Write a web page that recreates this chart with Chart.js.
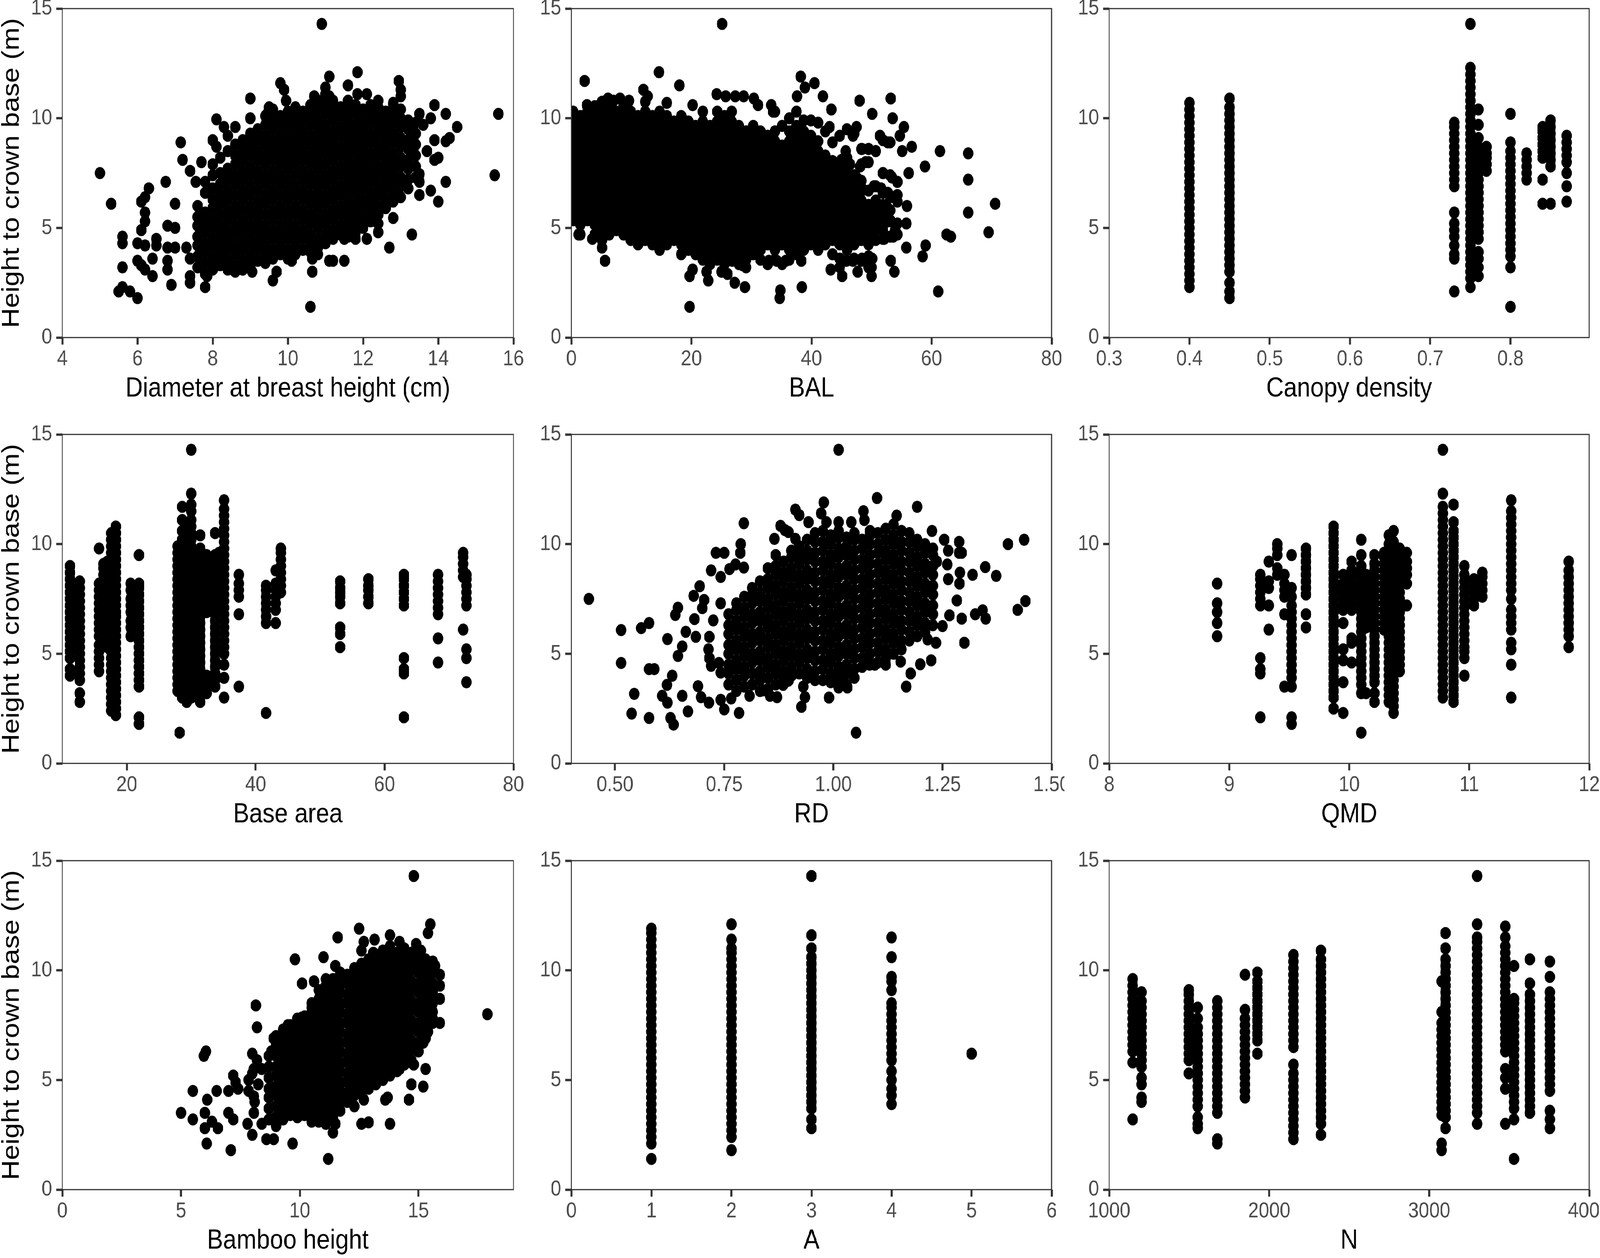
<!DOCTYPE html>
<html>
<head>
<meta charset="utf-8">
<script src="https://cdn.jsdelivr.net/npm/chart.js@4.4.1/dist/chart.umd.min.js"></script>
<style>
html, body { margin: 0; padding: 0; background: #fff; overflow: hidden; }
#page { position: absolute; left: 0; top: 0; width: 4724px; height: 3220px; overflow: hidden; background: #fff; transform-origin: 0 0; }
#page canvas { position: absolute; }
</style>
</head>
<body>
<div id="page"></div>
<script>
// each entry is [x, y1, y2, ...] : points sharing one x value
const dbhCols = [
  [7.6, 3.2,3.7,4.2,4.6,5.1,5.5,6.0],
  [7.8, 2.9,3.4,3.9,4.3,4.8,5.3,5.7,6.6,7.1],
  [8.0, 3.1,3.6,4.1,4.5,5.0,5.4,5.9,6.3,6.8,7.4,7.9],
  [8.2, 3.3,3.8,4.2,4.7,5.1,5.6,6.1,6.5,7.0,7.5,8.2],
  [8.4, 3.1,3.5,4.0,4.4,4.9,5.4,5.8,6.3,6.7,7.2,7.7,8.5],
  [8.6, 3.3,3.8,4.2,4.7,5.1,5.6,6.0,6.5,7.0,7.4,7.9,8.3,8.8],
  [8.8, 3.1,3.5,4.0,4.4,4.9,5.3,5.8,6.3,6.7,7.2,7.6,8.1,8.6,9.0],
  [9.0, 3.3,3.8,4.2,4.7,5.1,5.6,6.0,6.5,6.9,7.4,7.8,8.3,8.8,9.3],
  [9.2, 3.5,4.0,4.4,4.9,5.3,5.8,6.2,6.7,7.2,7.6,8.1,8.5,9.0,9.5],
  [9.4, 3.4,3.8,4.2,4.7,5.1,5.6,6.1,6.5,7.0,7.4,7.9,8.3,8.8,9.2,9.7,10.1],
  [9.6, 3.6,4.0,4.5,4.9,5.4,5.8,6.3,6.7,7.2,7.6,8.1,8.6,9.0,9.5,9.9,10.4],
  [9.8, 3.8,4.2,4.7,5.1,5.6,6.0,6.5,7.0,7.4,7.9,8.3,8.8,9.2,9.7,10.1],
  [10.0, 3.6,4.0,4.5,4.9,5.4,5.8,6.3,6.7,7.2,7.7,8.1,8.6,9.0,9.5,9.9,10.3],
  [10.2, 3.8,4.2,4.7,5.1,5.6,6.0,6.5,6.9,7.4,7.9,8.3,8.8,9.2,9.7,10.1,10.5],
  [10.4, 4.0,4.5,4.9,5.4,5.8,6.3,6.7,7.2,7.6,8.1,8.5,9.0,9.4,9.9,10.3],
  [10.6, 3.9,4.3,4.7,5.2,5.6,6.1,6.5,7.0,7.4,7.9,8.3,8.8,9.2,9.7,10.1,10.6],
  [10.8, 4.1,4.5,5.0,5.4,5.9,6.3,6.8,7.2,7.7,8.1,8.6,9.0,9.5,9.9,10.4,10.8],
  [11.0, 4.3,4.7,5.2,5.6,6.1,6.5,7.0,7.4,7.9,8.4,8.8,9.3,9.7,10.2,10.6],
  [11.2, 4.5,4.9,5.4,5.8,6.3,6.7,7.2,7.6,8.1,8.5,9.0,9.4,9.9,10.3,10.8],
  [11.4, 4.7,5.1,5.6,6.0,6.5,6.9,7.4,7.8,8.3,8.7,9.2,9.6,10.1,10.5],
  [11.6, 4.6,5.0,5.4,5.9,6.3,6.8,7.2,7.7,8.1,8.6,9.0,9.5,9.9,10.4,10.8],
  [11.8, 4.8,5.2,5.7,6.1,6.6,7.0,7.5,7.9,8.4,8.8,9.3,9.7,10.2,10.6],
  [12.0, 5.0,5.4,5.9,6.3,6.8,7.2,7.7,8.1,8.6,9.0,9.5,9.9,10.4],
  [12.2, 5.3,5.7,6.2,6.6,7.1,7.5,8.0,8.4,8.9,9.3,9.8,10.2,10.6],
  [12.4, 5.6,6.0,6.5,6.9,7.4,7.8,8.3,8.7,9.2,9.6,10.1,10.5],
  [12.6, 5.9,6.3,6.8,7.2,7.7,8.1,8.6,9.0,9.5,9.9,10.3],
  [12.8, 6.2,6.6,7.1,7.5,8.0,8.4,8.9,9.3,9.8,10.2,10.6],
  [13.0, 6.4,6.9,7.3,7.8,8.2,8.7,9.1,9.6,10.0,10.4],
  [13.2, 6.8,7.2,7.7,8.1,8.6,9.0,9.5,9.9],
  [13.4, 7.3,7.8,8.3,8.8,9.3,9.8],
  [10.9, 14.3], [5.0, 7.5], [5.3, 6.1], [15.6, 10.2], [15.5, 7.4], [10.6, 1.4],
  [5.5, 2.1], [5.6, 2.3,3.2,4.3,4.6], [5.8, 2.1], [6.0, 1.8,3.5,4.3], [6.1, 3.3,4.9,6.2],
  [6.2, 3.1,4.2,5.3,5.7,6.4], [6.3, 6.8], [6.4, 2.8,3.6], [6.5, 4.2,4.5], [6.75, 7.1],
  [6.8, 3.1,3.5,4.1,5.1], [6.9, 2.4], [7.0, 4.1,5.0,6.1], [7.15, 8.9], [7.2, 8.1], [7.3, 4.1],
  [7.4, 2.5,2.8,3.6,7.6], [7.55, 7.1], [7.7, 8.0], [7.8, 2.3], [7.85, 2.8], [8.1, 8.7,9.95],
  [8.0, 9.0], [8.3, 9.6], [8.4, 9.2], [8.6, 3.0,9.6], [8.8, 3.1], [9.0, 10.0,10.9],
  [9.05, 3.0,9.1], [9.45, 10.2], [9.5, 10.5], [9.6, 2.6], [9.7, 3.0], [9.8, 11.6], [9.9, 11.3],
  [9.95, 10.8], [10.1, 3.5], [10.65, 3.0,3.6], [10.7, 11.0], [10.8, 3.8], [11.0, 11.1,11.4],
  [11.1, 3.5,11.0,11.9], [11.2, 3.5], [11.5, 3.5,4.5], [11.6, 11.5], [11.8, 4.5],
  [11.85, 11.1,12.1], [12.1, 4.5,11.1], [12.2, 5.95], [12.3, 5.5], [12.4, 4.8,5.2,10.8],
  [12.7, 4.1,6.25], [12.8, 5.45,10.7], [12.95, 11.7], [13.0, 11.0,11.3], [13.3, 4.7],
  [13.5, 6.5,7.1,7.45,10.2], [13.6, 9.7], [13.7, 8.5], [13.8, 6.7,10.0], [13.9, 8.1,9.0,10.6],
  [14.0, 6.2,8.2], [14.2, 7.1,8.95,10.2], [14.3, 9.1], [14.5, 9.6]
];

const balCols = [
  [0.3, 5.35,5.8,6.25,6.7,7.15,7.6,8.05,8.5,8.95,9.4,9.85,10.3],
  [1.5, 4.7,5.15,5.6,6.05,6.5,6.95,7.4,7.85,8.3,8.75,9.2,9.65,10.1],
  [2.7, 5.35,5.8,6.25,6.7,7.15,7.6,8.05,8.5,8.95,9.4,9.85,10.3],
  [3.9, 4.7,5.15,5.6,6.05,6.5,6.95,7.4,7.85,8.3,8.75,9.2,9.65,10.1,10.55],
  [5.1, 4.45,4.9,5.35,5.8,6.25,6.7,7.15,7.6,8.05,8.5,8.95,9.4,9.85,10.3,10.75],
  [6.3, 4.7,5.15,5.6,6.05,6.5,6.95,7.4,7.85,8.3,8.75,9.2,9.65,10.1,10.55],
  [7.5, 4.9,5.35,5.8,6.25,6.7,7.15,7.6,8.05,8.5,8.95,9.4,9.85,10.3],
  [8.7, 4.7,5.15,5.6,6.05,6.5,6.95,7.4,7.85,8.3,8.75,9.2,9.65,10.1,10.55],
  [9.9, 4.45,4.9,5.35,5.8,6.25,6.7,7.15,7.6,8.05,8.5,8.95,9.4,9.85,10.3],
  [11.1, 4.25,4.7,5.15,5.6,6.05,6.5,6.95,7.4,7.85,8.3,8.75,9.2,9.65,10.1],
  [12.3, 4.45,4.9,5.35,5.8,6.25,6.7,7.15,7.6,8.05,8.5,8.95,9.4,9.85,10.3,10.75],
  [13.5, 4.25,4.7,5.15,5.6,6.05,6.5,6.95,7.4,7.85,8.3,8.75,9.2,9.65,10.1],
  [14.7, 4.0,4.45,4.9,5.35,5.8,6.25,6.7,7.15,7.6,8.05,8.5,8.95,9.4,9.85,10.3],
  [15.9, 4.25,4.7,5.15,5.6,6.05,6.5,6.95,7.4,7.85,8.3,8.75,9.2,9.65,10.1],
  [17.1, 4.45,4.9,5.35,5.8,6.25,6.7,7.15,7.6,8.05,8.5,8.95,9.4,9.85],
  [18.3, 3.8,4.25,4.7,5.15,5.6,6.05,6.5,6.95,7.4,7.85,8.3,8.75,9.2,9.65,10.1],
  [19.5, 4.0,4.45,4.9,5.35,5.8,6.25,6.7,7.15,7.6,8.05,8.5,8.95,9.4,9.85],
  [20.7, 3.8,4.25,4.7,5.15,5.6,6.05,6.5,6.95,7.4,7.85,8.3,8.75,9.2,9.65],
  [21.9, 3.55,4.0,4.45,4.9,5.35,5.8,6.25,6.7,7.15,7.6,8.05,8.5,8.95,9.4,9.85,10.3],
  [23.1, 3.35,3.8,4.25,4.7,5.15,5.6,6.05,6.5,6.95,7.4,7.85,8.3,8.75,9.2,9.65],
  [24.3, 3.55,4.0,4.45,4.9,5.35,5.8,6.25,6.7,7.15,7.6,8.05,8.5,8.95,9.4,9.85,10.3],
  [25.5, 3.35,3.8,4.25,4.7,5.15,5.6,6.05,6.5,6.95,7.4,7.85,8.3,8.75,9.2,9.65,10.1],
  [26.7, 3.55,4.0,4.45,4.9,5.35,5.8,6.25,6.7,7.15,7.6,8.05,8.5,8.95,9.4,9.85,10.3],
  [27.9, 3.35,3.8,4.25,4.7,5.15,5.6,6.05,6.5,6.95,7.4,7.85,8.3,8.75,9.2,9.65],
  [29.1, 3.55,4.0,4.45,4.9,5.35,5.8,6.25,6.7,7.15,7.6,8.05,8.5,8.95,9.4],
  [30.3, 3.8,4.25,4.7,5.15,5.6,6.05,6.5,6.95,7.4,7.85,8.3,8.75,9.2,9.65],
  [31.5, 3.55,4.0,4.45,4.9,5.35,5.8,6.25,6.7,7.15,7.6,8.05,8.5,8.95,9.4],
  [32.7, 3.35,4.25,4.7,5.15,5.6,6.05,6.5,6.95,7.4,7.85,8.3,8.75,9.2],
  [33.9, 3.55,4.0,4.45,4.9,5.35,5.8,6.25,6.7,7.15,7.6,8.05,8.5,8.95,9.4,10.3],
  [35.1, 3.35,4.25,4.7,5.15,5.6,6.05,6.5,6.95,7.4,7.85,8.3,8.75,9.65],
  [36.3, 3.55,4.0,4.45,4.9,5.35,5.8,6.25,6.7,7.15,7.6,8.05,8.5,8.95,9.4,10.0],
  [37.5, 3.8,4.25,4.7,5.15,5.6,6.05,6.5,6.95,7.4,7.85,8.3,8.75,9.2,9.65,10.3],
  [38.7, 4.0,4.45,4.9,5.35,5.8,6.25,6.7,7.15,7.6,8.05,8.5,8.95,9.4,9.9],
  [39.9, 4.25,4.7,5.15,5.6,6.05,6.5,6.95,7.4,7.85,8.3,8.75,9.2,9.9],
  [41.1, 4.0,4.45,4.9,5.35,5.8,6.25,6.7,7.15,7.6,8.05,8.5,8.95,9.8],
  [42.3, 4.25,4.7,5.15,5.6,6.05,6.5,6.95,7.4,7.85,8.3,9.4],
  [43.5, 3.8,4.45,4.9,5.35,5.8,6.25,6.7,7.15,7.6,8.05,8.9],
  [44.7, 3.6,4.25,4.7,5.15,5.6,6.05,6.5,6.95,7.4,7.85,9.2],
  [45.9, 4.0,4.45,4.9,5.35,5.8,6.25,6.7,7.15,7.6,8.2,9.5],
  [47.1, 3.6,4.25,4.7,5.15,5.6,6.05,6.5,6.95,7.4,9.3],
  [48.3, 3.5,4.45,4.9,5.35,5.8,6.25,6.7,7.15,7.9,8.6],
  [49.5, 3.2,3.7,4.25,4.7,5.15,5.6,6.05,6.7,8.0,8.6],
  [50.7, 4.45,4.9,5.35,5.8,6.25,6.9,8.5],
  [51.9, 4.5,5.15,5.6,6.05,6.6,7.5,9.0],
  [53.1, 4.6,5.35,5.8,6.4,7.4,8.9],
  [54.3, 4.7,5.2,6.2,7.1],
  [25.1, 14.3], [2.2, 11.7], [14.6, 12.1], [18.0, 11.5], [12.0, 11.3], [12.7, 11.0],
  [38.2, 11.9], [40.5, 11.6], [38.9, 11.4], [37.6, 11.0], [41.9, 11.0], [48.0, 10.8],
  [53.2, 10.9], [50.1, 10.2], [53.5, 10.0], [55.4, 9.6], [54.7, 9.2], [51.4, 9.2],
  [56.7, 8.7], [55.1, 8.5], [61.4, 8.5], [66.1, 5.7,7.2,8.4], [58.9, 7.8], [56.2, 7.5],
  [51.9, 4.9,7.5], [53.4, 7.3], [54.3, 6.5,7.1], [55.9, 6.0], [70.6, 6.1], [55.8, 4.1,5.2],
  [69.5, 4.8], [62.5, 4.7], [63.2, 4.6], [59.0, 4.2], [58.5, 3.7], [53.2, 3.5], [53.8, 3.0],
  [61.1, 2.1], [50.0, 2.8,3.2], [47.7, 3.0], [45.1, 2.8], [43.2, 3.1], [38.4, 2.3], [38.3, 3.5],
  [34.8, 2.15], [34.7, 1.8], [28.9, 2.3], [27.2, 2.5], [19.7, 1.4,2.8], [20.2, 3.1,10.6],
  [22.8, 2.6], [22.5, 3.0], [25.0, 3.0], [26.0, 2.9], [5.6, 3.5], [5.1, 4.1], [3.5, 4.5],
  [1.2, 4.7], [0.9, 5.45], [0.6, 5.8], [24.2, 11.1], [25.7, 11.0], [27.3, 11.0], [28.7, 11.0],
  [30.4, 10.9], [31.1, 10.6], [33.3, 10.6], [33.6, 10.3], [8.1, 10.9], [9.6, 10.8], [6.1, 10.9],
  [7.0, 10.8], [2.6, 10.6], [4.7, 10.6], [15.9, 10.7], [43.3, 10.4], [43.0, 9.6], [47.5, 7.3,9.6],
  [46.9, 3.5,9.2], [52.7, 5.9,6.6,8.9], [48.4, 3.6,6.8,8.6], [49.5, 8.6], [50.7, 8.5], [45.7, 8.5],
  [45.0, 8.1], [46.4, 7.9], [48.1, 7.8], [49.0, 8.0], [48.0, 6.4], [50.4, 4.5,6.9], [51.6, 6.8],
  [51.5, 5.5], [52.8, 5.3], [53.9, 4.9], [52.1, 4.5], [53.6, 4.6], [50.1, 3.6], [44.7, 3.2],
  [45.8, 3.5], [32.9, 3.5], [34.2, 3.5], [35.7, 3.5], [26.8, 3.5], [28.5, 3.3], [29.1, 3.2]
];

const canopyCols = [
  [0.40, 2.3,2.6,2.9,3.2,3.5,3.8,4.1,4.4,4.7,5.0,5.3,5.6,5.9,6.2,6.5,6.8,7.1,7.4,7.7,8.0,8.3,8.6,8.9,9.2,9.5,9.8,10.1,10.4,10.7],
  [0.45, 1.8,2.1,2.5,3.0,3.3,3.6,3.9,4.2,4.5,4.8,5.1,5.4,5.7,6.0,6.3,6.6,6.9,7.2,7.5,7.8,8.1,8.4,8.7,9.0,9.3,9.6,9.9,10.2,10.5,10.9],
  [0.73, 2.1,3.6,3.8,4.2,4.6,4.9,5.2,5.7,6.9,7.2,7.5,7.8,8.1,8.4,8.7,9.0,9.3,9.6,9.8],
  [0.75, 2.3,2.7,3.0,3.3,3.6,3.9,4.2,4.5,4.8,5.1,5.4,5.7,6.0,6.3,6.6,6.9,7.2,7.5,7.8,8.1,8.4,8.7,9.0,9.3,9.6,9.9,10.2,10.5,10.8,11.1,11.4,11.7,12.0,12.3,14.3],
  [0.76, 2.8,3.2,3.6,3.9,4.5,4.8,5.1,5.4,5.7,6.0,6.3,6.6,6.9,7.2,7.5,7.8,8.1,8.4,8.7,9.1,9.7,10.4],
  [0.77, 7.6,7.9,8.2,8.4,8.7],
  [0.80, 1.4,3.2,3.7,4.0,4.3,4.6,4.9,5.2,5.5,5.8,6.1,6.4,6.7,7.0,7.3,7.6,7.9,8.2,8.5,8.9,10.2],
  [0.82, 7.2,7.5,7.8,8.1,8.4],
  [0.84, 6.1,7.2,8.2,8.5,8.8,9.1,9.4,9.6],
  [0.85, 6.1,7.8,8.1,8.4,8.7,9.0,9.3,9.6,9.9],
  [0.87, 6.2,6.9,7.5,8.0,8.3,8.6,8.9,9.2]
];

const baseAreaCols = [
  [11.2, 4.0,4.3,4.8,5.1,5.4,5.7,6.0,6.3,6.6,6.9,7.2,7.5,7.8,8.1,8.4,8.7,9.0],
  [11.8, 5.5,5.9,6.3,6.7,7.1,7.5,7.9],
  [12.7, 2.8,3.2,3.8,4.1,4.4,4.7,5.0,5.3,5.6,5.9,6.2,6.5,6.8,7.1,7.4,7.7,8.0,8.3],
  [15.7, 4.2,4.5,4.8,5.1,5.4,5.8,6.1,6.4,6.7,7.0,7.3,7.6,7.9,8.2,9.8],
  [16.4, 5.6,5.9,6.2,6.5,6.8,7.1,7.4,7.7,8.0,8.3,8.6,8.9,9.1],
  [17.0, 5.3,5.7,6.0,6.3,6.6,6.9,7.2,7.5,7.8,8.1,8.4,8.7,9.2],
  [17.6, 2.4,2.7,3.0,3.3,3.6,3.9,4.2,4.5,4.8,5.1,5.4,5.7,6.0,6.3,6.6,6.9,7.2,7.5,7.8,8.1,8.4,8.7,9.0,9.3,9.6,9.9,10.2,10.5],
  [18.3, 2.2,2.5,2.8,3.1,3.4,3.7,4.0,4.3,4.6,4.9,5.2,5.5,5.8,6.1,6.4,6.7,6.9,7.2,7.5,7.8,8.1,8.4,8.7,9.0,9.3,9.6,9.9,10.2,10.5,10.8],
  [20.6, 5.8,6.2,6.5,6.9,7.2,7.5,7.9,8.2],
  [21.9, 1.8,2.1,3.5,3.8,4.1,4.4,4.7,5.0,5.3,5.6,5.9,6.2,6.5,6.8,7.1,7.4,7.7,8.0,8.2,9.5],
  [27.9, 3.3,3.6,3.9,4.2,4.5,4.8,5.1,5.4,5.7,6.0,6.3,6.6,6.9,7.2,7.5,7.8,8.1,8.4,8.7,9.0,9.3,9.6,9.9],
  [28.2, 1.4],
  [28.6, 3.0,3.3,3.6,3.9,4.2,4.5,4.8,5.1,5.4,5.7,6.0,6.3,6.6,6.9,7.2,7.5,7.8,8.1,8.4,8.7,9.0,9.3,9.6,9.9,10.2,10.6,11.1,11.7],
  [29.3, 2.8,3.1,3.4,3.7,4.0,4.3,4.6,4.9,5.2,5.5,5.8,6.1,6.4,6.7,7.0,7.3,7.6,7.9,8.2,8.5,8.8,9.1,9.4,9.7,10.0,10.4,10.8],
  [30.0, 3.0,3.3,3.6,3.9,4.2,4.5,4.8,5.1,5.4,5.7,6.0,6.3,6.6,6.9,7.2,7.5,7.8,8.1,8.4,8.7,9.0,9.3,9.6,9.9,10.2,10.5,10.8,11.1,11.5,11.8,12.3,14.3],
  [30.7, 3.2,3.5,3.8,4.1,4.4,4.7,5.0,5.3,5.6,5.9,6.2,6.5,6.8,7.1,7.4,7.7,8.0,8.3,8.6,8.9,9.2,9.5],
  [31.4, 2.8,3.1,3.4,3.7,4.0,4.3,4.6,4.9,5.2,5.5,5.8,6.1,6.4,6.7,7.0,7.3,7.6,7.9,8.2,8.5,8.8,9.1,9.4,9.8,10.4],
  [32.4, 3.2,3.6,4.0,6.9,7.2,7.6,8.0,8.4,8.8,9.2,9.5],
  [33.0, 7.3,7.7,8.1,8.5,8.9,9.3],
  [33.7, 3.5,3.8,4.1,4.4,4.7,5.0,5.3,5.6,5.9,6.2,6.5,6.8,7.1,7.4,7.7,8.0,8.3,8.6,8.9,9.2,9.5,10.5],
  [34.3, 7.0,7.4,7.8,8.2,8.6,9.0,9.6],
  [35.1, 3.0,3.9,4.5,5.0,5.3,5.6,5.9,6.2,6.5,6.8,7.1,7.4,7.7,8.0,8.3,8.6,8.9,9.2,9.5,9.8,10.1,10.4,10.7,11.0,11.3,11.6,12.0],
  [37.4, 3.5,6.8,7.6,7.9,8.2,8.6],
  [41.6, 2.3,6.4,6.7,7.0,7.3,7.6,7.9,8.1],
  [43.1, 6.4,7.0,7.3,7.6,7.9,8.2,8.8],
  [43.9, 7.8,8.1,8.4,8.7,9.0,9.3,9.6,9.8],
  [53.1, 5.3,5.9,6.2,7.3,7.6,7.8,8.0,8.3],
  [57.5, 7.3,7.6,7.9,8.1,8.4],
  [63.0, 2.1,4.1,4.3,4.8,7.2,7.5,7.8,8.1,8.4,8.6],
  [68.3, 4.6,5.7,6.8,7.1,7.4,7.7,8.0,8.3,8.6],
  [72.2, 6.1,8.5,8.8,9.1,9.4,9.6],
  [72.7, 3.7,4.8,5.2,7.2,7.5,7.8,8.1,8.4,8.6]
];

const rdCols = [
  [0.760, 3.6,4.1,4.5,5.0,5.4,5.9,6.3,6.8],
  [0.778, 3.3,3.8,4.3,4.7,5.2,5.6,6.1,6.5,7.0,7.3],
  [0.796, 3.5,4.0,4.4,4.9,5.3,5.8,6.2,6.7,7.1,7.6],
  [0.814, 3.6,4.1,4.6,5.0,5.5,5.9,6.4,6.8,7.3,7.7,8.0],
  [0.832, 3.3,3.8,4.2,4.7,5.1,5.6,6.0,6.5,6.9,7.4,7.8,8.3],
  [0.850, 3.4,3.9,4.4,4.8,5.3,5.7,6.2,6.6,7.1,7.5,8.0,8.4,8.9],
  [0.868, 3.6,4.1,4.5,5.0,5.4,5.9,6.3,6.8,7.2,7.7,8.1,8.6,9.0,9.5],
  [0.886, 3.8,4.2,4.7,5.1,5.6,6.0,6.5,6.9,7.4,7.8,8.3,8.7,9.2],
  [0.904, 4.0,4.4,4.9,5.3,5.8,6.2,6.7,7.1,7.6,8.0,8.5,8.9,9.4,9.7],
  [0.922, 4.1,4.6,5.0,5.5,5.9,6.4,6.8,7.3,7.7,8.2,8.6,9.1,9.5,9.9],
  [0.940, 3.9,4.3,4.8,5.2,5.7,6.1,6.6,7.0,7.5,7.9,8.4,8.8,9.3,9.7,10.2],
  [0.958, 3.8,4.2,4.7,5.1,5.6,6.0,6.5,6.9,7.4,7.8,8.3,8.7,9.2,9.6,10.1,10.5],
  [0.976, 3.8,4.3,4.7,5.2,5.6,6.1,6.5,7.0,7.4,7.9,8.3,8.8,9.2,9.7,10.1,10.6],
  [0.994, 3.7,4.1,4.6,5.0,5.5,5.9,6.4,6.8,7.3,7.7,8.2,8.6,9.1,9.5,10.0,10.4],
  [1.012, 3.6,4.0,4.4,4.9,5.3,5.8,6.2,6.7,7.1,7.6,8.0,8.5,8.9,9.4,9.8,10.3,10.6],
  [1.030, 3.6,4.1,4.5,5.0,5.4,5.9,6.3,6.8,7.2,7.7,8.1,8.6,9.0,9.5,9.9,10.3],
  [1.048, 3.9,4.3,4.8,5.2,5.7,6.1,6.6,7.0,7.5,7.9,8.4,8.8,9.3,9.7,10.2,10.5],
  [1.066, 4.4,4.8,5.3,5.7,6.2,6.6,7.1,7.5,8.0,8.4,8.9,9.3,9.8,10.2],
  [1.084, 4.6,5.0,5.5,5.9,6.4,6.8,7.3,7.7,8.2,8.6,9.1,9.5,10.0,10.4,10.6],
  [1.102, 4.6,5.1,5.5,6.0,6.4,6.9,7.3,7.8,8.2,8.7,9.1,9.6,10.0,10.5],
  [1.120, 4.8,5.2,5.7,6.1,6.6,7.0,7.5,7.9,8.4,8.8,9.3,9.7,10.2,10.7],
  [1.138, 5.0,5.5,5.9,6.4,6.8,7.3,7.7,8.2,8.6,9.1,9.5,10.0,10.4,10.9],
  [1.156, 5.2,5.6,6.1,6.5,7.0,7.4,7.9,8.3,8.8,9.2,9.7,10.1,10.6],
  [1.174, 5.6,6.0,6.5,6.9,7.4,7.8,8.3,8.7,9.2,9.6,10.1,10.5],
  [1.192, 5.8,6.3,6.7,7.2,7.6,8.1,8.5,9.0,9.4,9.9,10.2],
  [1.210, 6.0,6.4,6.9,7.3,7.8,8.2,8.7,9.1,9.6,10.0],
  [1.228, 6.3,6.8,7.2,7.7,8.1,8.6,9.0,9.5,9.8],
  [0.44, 7.5], [0.514, 4.58,6.08], [0.56, 6.17], [0.578, 2.07,4.3,6.4], [0.59, 4.3], [0.544, 3.17],
  [0.538, 2.27], [0.627, 2.07], [0.634, 1.77], [0.62, 2.77,5.67], [0.608, 3.08], [0.619, 3.58],
  [0.631, 4.0], [0.638, 6.77], [0.644, 4.9,7.1], [0.654, 3.08,5.33], [0.662, 6.0], [0.667, 2.37],
  [0.68, 7.64], [0.682, 6.58], [0.685, 5.77], [0.694, 8.08], [0.7, 7.08], [0.704, 7.45],
  [0.69, 3.52], [0.697, 3.02], [0.715, 2.77], [0.72, 4.45,8.8], [0.731, 9.6], [0.742, 2.9,4.14,7.3,8.5],
  [0.75, 2.46,9.6], [0.762, 8.86], [0.776, 9.07], [0.725, 6.52], [0.784, 2.3], [0.766, 2.96],
  [0.788, 10.0], [0.787, 9.6], [0.795, 8.93,10.95], [0.865, 10.24], [0.879, 10.83], [0.889, 10.64],
  [0.897, 3.77,10.55], [0.913, 10.24,11.57], [0.922, 11.32], [0.943, 11.0], [0.978, 11.9],
  [0.972, 11.4], [0.984, 11.0], [1.012, 3.46,11.0,14.3], [1.10, 12.1], [1.192, 11.7], [1.145, 11.3],
  [1.069, 11.5], [1.071, 11.1], [1.041, 11.0], [1.226, 10.6], [1.254, 10.2], [1.288, 9.6,10.1],
  [1.263, 8.4,9.7], [1.294, 6.6,9.6], [1.348, 8.95], [1.373, 8.55], [1.319, 8.6], [1.29, 8.7],
  [1.289, 8.2], [1.261, 9.07], [1.237, 9.2], [1.40, 10.0], [1.437, 10.2], [1.44, 7.4], [1.422, 7.0],
  [1.325, 6.8], [1.342, 6.98], [1.349, 6.6], [1.283, 7.43], [1.266, 6.75], [1.25, 6.26], [1.30, 5.5],
  [1.235, 5.5], [1.224, 4.7], [1.199, 4.52], [1.177, 4.1], [1.167, 3.5], [1.154, 4.64], [1.216, 5.65],
  [1.12, 4.5], [1.095, 4.5], [1.083, 4.5], [1.052, 1.4], [0.99, 3.0], [1.032, 3.46], [1.02, 3.7],
  [0.927, 2.58], [0.935, 3.02], [0.931, 3.5], [0.871, 3.02], [0.855, 3.08], [0.839, 3.33],
  [0.808, 3.08], [0.885, 3.58], [0.738, 4.58], [0.714, 5.2], [0.716, 4.8,5.77]
];

const qmdCols = [
  [8.90, 5.8,6.4,6.9,7.3,8.2],
  [9.26, 2.1,4.1,4.3,4.8,7.2,7.5,7.8,8.1,8.4,8.6],
  [9.33, 6.1,7.2,8.0,8.3,9.2],
  [9.40, 8.6,8.9,9.5,9.8,10.0],
  [9.46, 3.5,6.8,7.6,7.9,8.2,8.6],
  [9.52, 1.8,2.1,3.5,3.9,4.2,4.5,4.8,5.1,5.4,5.7,6.0,6.3,6.6,6.9,7.2,7.6,8.0,9.5],
  [9.64, 6.2,6.8,7.7,8.0,8.3,8.6,8.9,9.2,9.5,9.8],
  [9.87, 2.5,3.0,3.3,3.6,3.9,4.2,4.5,4.8,5.1,5.4,5.7,6.0,6.3,6.6,6.9,7.2,7.5,7.8,8.1,8.4,8.7,9.0,9.3,9.6,9.9,10.2,10.5,10.8],
  [9.95, 2.3,3.7,4.7,5.2,6.4,7.0,7.3,7.6,7.9,8.2,8.6],
  [10.02, 4.6,5.5,5.7,7.0,7.3,7.6,7.9,8.2,8.5,8.8,9.2],
  [10.10, 1.4,3.2,3.6,3.9,4.2,4.5,4.8,5.1,5.4,5.7,6.0,6.3,6.6,6.9,7.2,7.5,7.8,8.1,8.4,8.7,9.0,9.5,10.2],
  [10.14, 3.2,6.2,6.6,7.0,7.4,7.8,8.2,8.6],
  [10.21, 2.8,3.2,3.7,4.0,4.3,4.6,4.9,5.2,5.5,5.8,6.1,6.4,6.7,7.0,7.3,7.6,7.9,8.2,8.5,8.8,9.1,9.5],
  [10.29, 6.1,6.4,6.7,7.0,7.3,7.6,7.9,8.2,8.5,8.8,9.1,9.4,9.6],
  [10.33, 2.8,3.1,3.4,3.7,4.0,4.3,4.6,4.9,5.2,5.5,5.8,6.1,6.4,6.7,7.0,7.3,7.6,7.9,8.2,8.5,8.8,9.1,9.4,9.7,10.0,10.4],
  [10.37, 2.3,2.6,2.9,3.2,3.5,3.8,4.1,4.4,4.7,5.0,5.3,5.6,5.9,6.2,6.5,6.8,7.1,7.4,7.7,8.0,8.3,8.6,8.9,9.2,9.5,9.8,10.1,10.6],
  [10.42, 4.2,4.5,4.8,5.1,5.4,5.7,6.0,6.3,6.6,6.9,7.2,7.5,7.8,8.1,8.4,8.7,9.0,9.3,9.6,9.8],
  [10.48, 7.2,8.2,8.6,8.9,9.2,9.6],
  [10.78, 3.0,3.3,3.6,3.9,4.2,4.5,4.8,5.1,5.4,5.7,6.0,6.3,6.6,6.9,7.2,7.5,7.8,8.1,8.4,8.7,9.0,9.3,9.6,9.9,10.2,10.5,10.8,11.1,11.4,11.7,12.3,14.3],
  [10.87, 2.8,3.1,3.4,3.7,4.0,4.3,4.6,4.9,5.2,5.5,5.8,6.1,6.4,6.7,7.0,7.3,7.6,7.9,8.2,8.5,8.8,9.1,9.4,9.7,10.0,10.3,10.6,11.0,11.8],
  [10.96, 4.0,4.8,5.1,5.3,5.6,5.9,6.2,6.5,6.8,7.1,7.4,7.7,8.0,8.3,8.6,9.0],
  [11.04, 7.2,7.5,7.8,8.1,8.4],
  [11.11, 7.6,7.9,8.2,8.5,8.7],
  [11.35, 3.0,4.5,5.2,5.5,6.1,6.4,6.7,7.0,7.5,7.9,8.2,8.5,8.8,9.1,9.4,9.7,10.0,10.3,10.6,10.9,11.2,11.5,12.0],
  [11.83, 5.3,5.8,6.1,6.4,6.7,7.0,7.3,7.6,7.9,8.2,8.5,8.8,9.2]
];

const bambooCols = [
  [8.7, 3.2,3.7,4.2,4.6,5.1,5.6,6.1],
  [9.0, 2.9,3.3,3.8,4.3,4.7,5.2,5.6,6.1,6.6,7.0],
  [9.3, 3.2,3.6,4.1,4.5,5.0,5.4,5.9,6.3,6.8,7.2],
  [9.6, 3.4,3.9,4.3,4.8,5.2,5.7,6.1,6.6,7.0,7.5],
  [9.9, 3.3,3.7,4.2,4.6,5.1,5.5,6.0,6.4,6.9,7.3,7.8],
  [10.2, 3.4,3.9,4.3,4.8,5.2,5.7,6.1,6.6,7.0,7.5,7.9],
  [10.5, 3.1,3.6,4.0,4.5,4.9,5.4,5.8,6.3,6.7,7.2,7.6,8.1,8.5],
  [10.8, 3.3,3.8,4.2,4.7,5.1,5.6,6.0,6.5,6.9,7.4,7.8,8.3,8.7,9.1],
  [11.1, 3.0,3.5,3.9,4.4,4.8,5.3,5.7,6.2,6.6,7.1,7.5,8.0,8.4,8.9,9.3],
  [11.4, 3.3,3.7,4.2,4.6,5.1,5.5,6.0,6.4,6.9,7.3,7.8,8.2,8.7,9.1,9.6],
  [11.7, 3.6,4.0,4.5,4.9,5.4,5.8,6.3,6.7,7.2,7.6,8.1,8.5,9.0,9.4,9.9],
  [12.0, 4.0,4.4,4.9,5.3,5.8,6.2,6.7,7.1,7.6,8.0,8.5,8.9,9.4,9.8],
  [12.3, 4.3,4.7,5.2,5.6,6.1,6.5,7.0,7.4,7.9,8.3,8.8,9.2,9.7,10.1],
  [12.6, 4.5,4.9,5.4,5.8,6.3,6.7,7.2,7.6,8.1,8.5,9.0,9.4,9.9,10.3],
  [12.9, 4.6,5.1,5.5,6.0,6.4,6.9,7.3,7.8,8.2,8.7,9.1,9.6,10.0,10.5],
  [13.2, 4.8,5.3,5.7,6.2,6.6,7.1,7.5,8.0,8.4,8.9,9.3,9.8,10.2,10.7],
  [13.5, 5.0,5.5,5.9,6.4,6.8,7.3,7.7,8.2,8.6,9.1,9.5,10.0,10.4,10.9],
  [13.8, 5.2,5.7,6.1,6.6,7.0,7.5,7.9,8.4,8.8,9.3,9.7,10.2,10.6,11.1],
  [14.1, 5.4,5.9,6.3,6.8,7.2,7.7,8.1,8.6,9.0,9.5,9.9,10.4,10.8],
  [14.4, 5.7,6.1,6.6,7.0,7.5,7.9,8.4,8.8,9.3,9.7,10.2,10.6,11.0],
  [14.7, 5.9,6.4,6.8,7.3,7.7,8.2,8.6,9.1,9.5,10.0,10.4,10.8],
  [15.0, 6.3,6.7,7.2,7.6,8.1,8.5,9.0,9.4,9.9,10.3,10.7],
  [15.3, 6.9,7.4,7.8,8.3,8.7,9.2,9.6,10.1,10.5],
  [15.6, 7.6,8.1,8.5,9.0,9.4,9.9],
  [14.8, 5.7,14.3], [17.9, 8.0], [15.5, 12.1], [15.4, 7.2,11.7], [12.5, 11.9], [12.7, 4.1,11.3],
  [11.6, 11.5], [13.15, 11.4], [13.8, 3.0,11.6], [9.8, 10.5], [11.0, 10.6], [10.1, 7.85,9.4],
  [10.6, 9.5], [8.15, 8.4], [8.2, 5.9,7.4], [5.96, 6.1], [6.05, 6.3], [8.0, 2.5,5.3,6.2],
  [7.2, 3.2,5.2], [7.3, 4.9], [5.5, 3.2,4.5], [6.1, 4.1], [6.5, 4.5], [7.0, 3.5,4.5], [7.4, 4.6],
  [7.85, 4.5,5.0], [5.0, 3.5], [6.0, 2.8,3.5], [6.3, 3.1], [6.55, 2.8], [7.8, 3.0], [8.4, 3.0,5.5],
  [6.08, 2.1], [7.1, 1.8], [8.6, 2.3], [8.9, 2.3,6.9], [9.7, 2.1], [11.2, 1.4,9.2], [8.07, 3.5,4.25,5.5],
  [8.1, 4.0], [8.25, 4.8], [12.9, 3.07,10.4], [12.6, 3.0,10.9], [13.6, 4.1], [13.7, 4.2], [14.6, 4.1],
  [14.7, 4.8], [15.2, 4.7,6.7], [15.3, 5.5], [14.2, 5.5,11.3], [11.4, 2.6], [11.5, 3.0,10.2],
  [11.1, 3.0,9.6], [10.8, 3.1], [12.3, 3.8], [11.9, 4.1], [15.9, 7.6,8.7,9.3,9.8], [15.7, 10.2],
  [15.6, 7.8,10.4], [14.9, 11.2], [15.1, 10.9], [13.5, 10.9], [13.1, 10.8], [11.7, 9.85],
  [11.05, 9.2], [10.5, 8.3], [9.9, 7.6], [9.5, 7.5], [9.3, 7.3], [8.8, 6.3], [9.0, 6.5]
];

const ageCols = [
  [1, 1.4,2.1,2.4,2.7,3.0,3.3,3.6,3.9,4.2,4.5,4.8,5.1,5.4,5.7,6.0,6.3,6.6,6.9,7.2,7.5,7.8,8.1,8.4,8.7,9.0,9.3,9.6,9.9,10.2,10.5,10.8,11.1,11.4,11.7,11.9],
  [2, 1.8,2.4,2.7,3.0,3.3,3.6,3.9,4.2,4.5,4.8,5.1,5.4,5.7,6.0,6.3,6.6,6.9,7.2,7.5,7.8,8.1,8.4,8.7,9.0,9.3,9.6,9.9,10.2,10.5,10.8,11.0,11.4,12.1],
  [3, 2.8,3.2,3.7,4.0,4.3,4.6,4.9,5.2,5.5,5.8,6.1,6.4,6.7,7.0,7.3,7.6,7.9,8.2,8.5,8.8,9.1,9.4,9.7,10.0,10.3,10.6,11.0,11.6,14.3],
  [4, 3.9,4.3,4.6,5.0,5.4,5.9,6.2,6.5,6.8,7.1,7.4,7.7,8.0,8.3,8.5,9.1,9.5,9.7,10.6,11.5],
  [5, 6.2]
];

const nCols = [
  [1147, 3.2,5.8,6.3,6.6,6.9,7.2,7.5,7.8,8.1,8.4,8.7,9.0,9.3,9.6],
  [1202, 4.0,4.2,4.8,5.1,5.6,5.9,6.2,6.5,6.8,7.1,7.4,7.7,8.0,8.3,8.6,9.0],
  [1498, 5.3,5.9,6.2,6.5,6.8,7.1,7.4,7.7,8.0,8.3,8.6,8.9,9.1],
  [1553, 2.8,3.0,3.3,3.8,4.1,4.4,4.7,5.0,5.3,5.6,5.9,6.2,6.5,6.8,7.1,7.4,7.8,8.3],
  [1676, 2.1,2.3,3.5,3.8,4.1,4.4,4.7,5.0,5.3,5.6,5.9,6.2,6.5,6.8,7.1,7.4,7.7,8.0,8.3,8.6],
  [1849, 4.2,4.5,4.8,5.1,5.4,5.7,6.0,6.3,6.6,6.9,7.2,7.5,7.8,8.2,9.8],
  [1926, 6.2,6.8,7.1,7.4,7.7,8.0,8.3,8.6,8.9,9.2,9.5,9.9],
  [2152, 2.3,2.6,2.9,3.2,3.5,3.8,4.1,4.4,4.7,5.0,5.3,5.7,6.5,6.8,7.1,7.4,7.7,8.0,8.3,8.6,8.9,9.2,9.5,9.8,10.1,10.4,10.7],
  [2323, 2.5,3.0,3.3,3.6,3.9,4.2,4.5,4.8,5.1,5.4,5.7,6.0,6.3,6.6,6.9,7.2,7.5,7.8,8.1,8.4,8.7,9.0,9.3,9.6,9.9,10.2,10.5,10.9],
  [3078, 1.8,2.1,3.4,3.7,4.0,4.3,4.6,4.9,5.2,5.5,5.8,6.1,6.4,6.7,7.0,7.3,7.6,8.1,9.5],
  [3102, 2.8,3.3,3.6,3.9,4.2,4.5,4.8,5.1,5.4,5.7,6.0,6.3,6.6,6.9,7.2,7.5,7.8,8.1,8.4,8.7,9.0,9.3,9.6,9.9,10.2,10.5,11.0,11.7],
  [3300, 3.0,3.5,3.8,4.1,4.4,4.7,5.0,5.3,5.6,5.9,6.2,6.5,6.8,7.1,7.4,7.7,8.0,8.3,8.6,8.9,9.2,9.5,9.8,10.1,10.4,10.7,11.0,11.3,11.5,12.1,14.3],
  [3476, 3.0,4.6,5.1,5.5,6.3,6.6,6.9,7.2,7.5,7.8,8.1,8.4,8.7,9.0,9.3,9.6,9.9,10.2,10.5,10.8,11.1,11.5,12.0],
  [3530, 1.4,3.2,3.7,4.0,4.3,4.6,4.9,5.2,5.5,5.8,6.1,6.4,6.7,7.0,7.3,7.6,7.9,8.2,8.5,8.7,10.2],
  [3629, 3.5,3.8,4.1,4.4,4.7,5.0,5.3,5.6,5.9,6.2,6.5,6.8,7.1,7.4,7.7,8.0,8.3,8.6,8.9,9.4,10.5],
  [3754, 2.8,3.2,3.6,4.5,4.8,5.1,5.4,5.7,6.0,6.3,6.6,6.9,7.2,7.5,7.8,8.1,8.4,8.7,9.0,9.7,10.4]
];

// tick values and labels
const yTicks = [0, 5, 10, 15];
const yLabels = ["0", "5", "10", "15"];
const dbhTicks = [4, 6, 8, 10, 12, 14, 16];
const dbhLabels = ["4", "6", "8", "10", "12", "14", "16"];
const balTicks = [0, 20, 40, 60, 80];
const balLabels = ["0", "20", "40", "60", "80"];
const canopyTicks = [0.3, 0.4, 0.5, 0.6, 0.7, 0.8];
const canopyLabels = ["0.3", "0.4", "0.5", "0.6", "0.7", "0.8"];
const baseAreaTicks = [20, 40, 60, 80];
const baseAreaLabels = ["20", "40", "60", "80"];
const rdTicks = [0.5, 0.75, 1, 1.25, 1.5];
const rdLabels = ["0.50", "0.75", "1.00", "1.25", "1.50"];
const qmdTicks = [8, 9, 10, 11, 12];
const qmdLabels = ["8", "9", "10", "11", "12"];
const bambooTicks = [0, 5, 10, 15];
const bambooLabels = ["0", "5", "10", "15"];
const ageTicks = [0, 1, 2, 3, 4, 5, 6];
const ageLabels = ["0", "1", "2", "3", "4", "5", "6"];
const nTicks = [1000, 2000, 3000, 4000];
const nLabels = ["1000", "2000", "3000", "4000"];

const Y_TITLE = "Height to crown base (m)";

const PANELS = [
  { col: 0, row: 0, cols: dbhCols, title: "Diameter at breast height (cm)", min: 4, max: 16, ticks: dbhTicks, labels: dbhLabels },
  { col: 1, row: 0, cols: balCols, title: "BAL", min: 0, max: 80, ticks: balTicks, labels: balLabels },
  { col: 2, row: 0, cols: canopyCols, title: "Canopy density", min: 0.3, max: 0.898, ticks: canopyTicks, labels: canopyLabels },
  { col: 0, row: 1, cols: baseAreaCols, title: "Base area", min: 10, max: 80, ticks: baseAreaTicks, labels: baseAreaLabels },
  { col: 1, row: 1, cols: rdCols, title: "RD", min: 0.4, max: 1.5, ticks: rdTicks, labels: rdLabels },
  { col: 2, row: 1, cols: qmdCols, title: "QMD", min: 8, max: 12, ticks: qmdTicks, labels: qmdLabels },
  { col: 0, row: 2, cols: bambooCols, title: "Bamboo height", min: 0, max: 19, ticks: bambooTicks, labels: bambooLabels },
  { col: 1, row: 2, cols: ageCols, title: "A", min: 0, max: 6, ticks: ageTicks, labels: ageLabels },
  { col: 2, row: 2, cols: nCols, title: "N", min: 1000, max: 4000, ticks: nTicks, labels: nLabels }
];

// layout (pixels of the 4724 x 3220 figure)
const PAGE_W = 4724, PAGE_H = 3220;
const COL_LEFT = [184, 1687, 3275];
const COL_W = [1332, 1418, 1417];
const ROW_TOP = [22, 1112, 2203];
const PLOT_H = 842;
const AXIS_H = 200;
const PAD_TOP = 25;

Chart.defaults.font.family = "'Liberation Sans', Arial, Helvetica, sans-serif";

const framePlugin = {
  id: 'frame',
  afterDatasetsDraw(chart) {
    const a = chart.chartArea;
    const ctx = chart.ctx;
    ctx.save();
    ctx.strokeStyle = '#333333';
    ctx.lineWidth = 3;
    ctx.strokeRect(a.left, a.top, a.right - a.left, a.bottom - a.top);
    ctx.restore();
  }
};

function toPoints(cols) {
  const pts = [];
  cols.forEach(c => {
    for (let i = 1; i < c.length; i++) pts.push({ x: c[0], y: c[i] });
  });
  return pts;
}

const page = document.getElementById('page');
// the window may be smaller than the figure: stretch the figure onto it
const sx = window.innerWidth / PAGE_W, sy = window.innerHeight / PAGE_H;
page.style.transform = 'scale(' + sx + ',' + sy + ')';

PANELS.forEach(p => {
  const axisW = p.col === 0 ? 184 : 150;
  const padRight = p.col === 0 ? 40 : (p.col === 1 ? 38 : 32);
  const canvas = document.createElement('canvas');
  const w = axisW + COL_W[p.col] + padRight;
  const h = PAD_TOP + PLOT_H + AXIS_H;
  canvas.style.left = (COL_LEFT[p.col] - axisW) + 'px';
  canvas.style.top = (ROW_TOP[p.row] - PAD_TOP) + 'px';
  canvas.style.width = w + 'px';
  canvas.style.height = h + 'px';
  canvas.width = w;
  canvas.height = h;
  page.appendChild(canvas);

  const gridOpts = {
    drawOnChartArea: false, drawTicks: true, tickLength: 18,
    color: '#333333', lineWidth: 3, tickColor: '#333333', tickWidth: 6
  };

  new Chart(canvas.getContext('2d'), {
    type: 'scatter',
    data: {
      datasets: [{
        data: toPoints(p.cols),
        pointRadius: 15.5,
        pointBackgroundColor: '#000000',
        pointBorderWidth: 0,
        pointHoverRadius: 15.5
      }]
    },
    options: {
      responsive: false,
      animation: false,
      devicePixelRatio: 1,
      events: [],
      layout: { padding: { top: PAD_TOP, right: padRight, left: 0, bottom: 0 } },
      plugins: { legend: { display: false }, tooltip: { enabled: false } },
      scales: {
        x: {
          type: 'linear',
          min: p.min,
          max: p.max,
          afterBuildTicks: s => { s.ticks = p.ticks.map(v => ({ value: v })); },
          afterFit: s => { s.height = AXIS_H; s.paddingLeft = 0; s.paddingRight = 0; },
          ticks: {
            autoSkip: false, maxRotation: 0, minRotation: 0,
            color: '#4d4d4d', font: { size: 56 }, padding: 4,
            callback: (v, i) => p.labels[i]
          },
          grid: gridOpts,
          border: { display: false },
          title: {
            display: true, text: p.title, color: '#000000',
            font: { size: 71, lineHeight: 1 }, padding: { top: 0, bottom: 33 }
          }
        },
        y: {
          type: 'linear',
          min: 0,
          max: 15,
          afterBuildTicks: s => { s.ticks = yTicks.map(v => ({ value: v })); },
          afterFit: s => { s.width = axisW; s.paddingTop = 0; s.paddingBottom = 0; },
          ticks: {
            autoSkip: false,
            color: '#4d4d4d', font: { size: 56 }, padding: 12,
            callback: (v, i) => yLabels[i]
          },
          grid: gridOpts,
          border: { display: false },
          title: {
            display: p.col === 0, text: Y_TITLE, color: '#000000',
            font: { size: 71, lineHeight: 1 }, padding: { top: 0, bottom: 0 }
          }
        }
      }
    },
    plugins: [framePlugin]
  });
});
</script>
</body>
</html>
